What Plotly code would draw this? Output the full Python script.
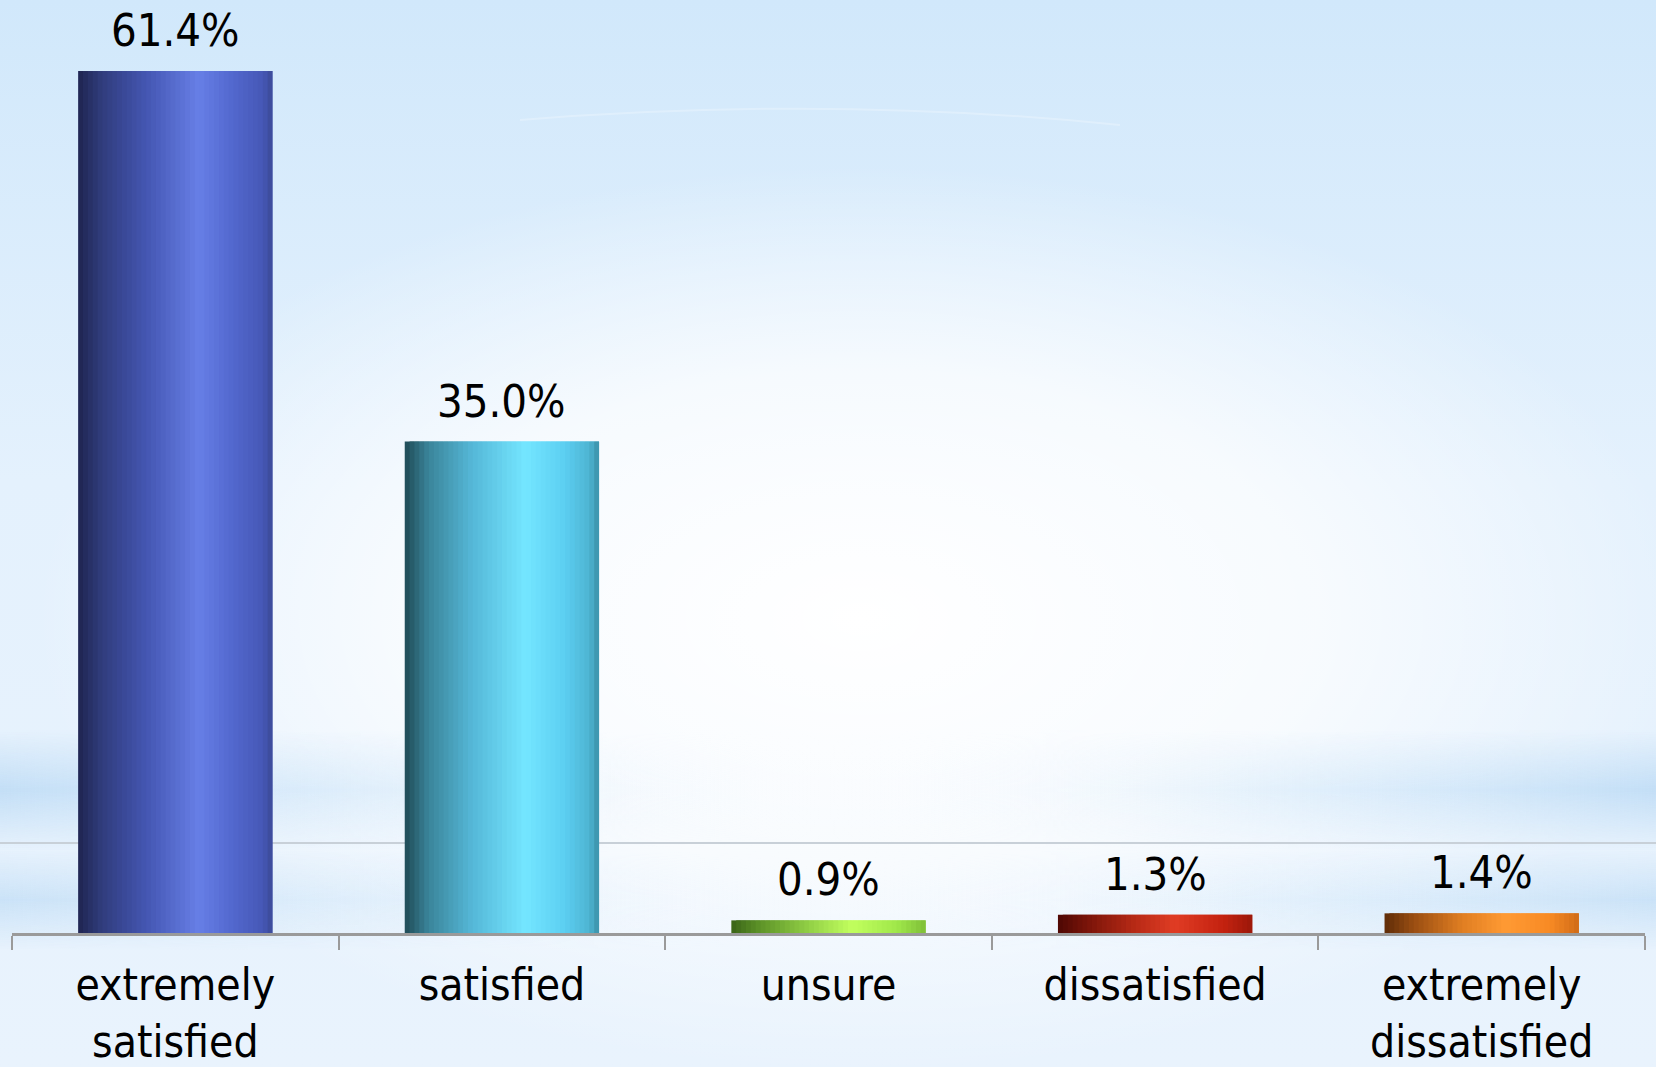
import base64
import plotly.graph_objects as go

# Survey results: satisfaction levels
categories = ["extremely<br>satisfied", "satisfied", "unsure", "dissatisfied", "extremely<br>dissatisfied"]
values = [61.4, 35.0, 0.9, 1.3, 1.4]
value_labels = ["61.4%", "35.0%", "0.9%", "1.3%", "1.4%"]

W, H = 1656, 1067
ML, MR, MT, MB = 12, 11, 0, 134

# Horizontal colour stops (left edge -> right edge) giving each bar a cylinder look
bar_gradients = [
    [(0.0, "#1f2550"), (0.12, "#303c7c"), (0.35, "#4456b2"), (0.62, "#677fe6"), (0.80, "#5267cd"), (0.95, "#4658b6"), (1.0, "#3b4a96")],
    [(0.0, "#1f4a55"), (0.12, "#3a8499"), (0.35, "#55b8d8"), (0.62, "#74e6ff"), (0.82, "#5ccff2"), (0.95, "#4eb4d2"), (1.0, "#3a8fa6")],
    [(0.0, "#3a6418"), (0.15, "#5e9428"), (0.40, "#92d046"), (0.62, "#c2ff5e"), (0.85, "#a0e84a"), (1.0, "#7fbf38")],
    [(0.0, "#4e0804"), (0.15, "#7a1409"), (0.40, "#b82a16"), (0.60, "#e03c24"), (0.85, "#c42210"), (1.0, "#9c180a")],
    [(0.0, "#5e2c08"), (0.15, "#9a4e12"), (0.40, "#e07e22"), (0.62, "#ff9a34"), (0.85, "#f88a24"), (1.0, "#d06c18")],
]


def hex_rgb(h):
    h = h.lstrip("#")
    return tuple(int(h[i:i + 2], 16) for i in (0, 2, 4))


def interp(stops, t):
    for (p0, c0), (p1, c1) in zip(stops, stops[1:]):
        if p0 <= t <= p1:
            f = 0 if p1 == p0 else (t - p0) / (p1 - p0)
            a, b = hex_rgb(c0), hex_rgb(c1)
            r = [round(a[k] + (b[k] - a[k]) * f) for k in range(3)]
            return "rgb(%d,%d,%d)" % tuple(r)
    return stops[-1][1]


# Soft blue backdrop with a bright centre and faint horizontal bands near the base
svg = f"""<svg xmlns='http://www.w3.org/2000/svg' width='{W}' height='{H}' viewBox='0 0 {W} {H}'>
<defs>
<linearGradient id='v' x1='0' y1='0' x2='0' y2='1'>
<stop offset='0' stop-color='#d1e8fb'/>
<stop offset='0.45' stop-color='#e4f1fd'/>
<stop offset='1' stop-color='#e9f3fd'/>
</linearGradient>
<radialGradient id='c' cx='0.52' cy='0.58' r='0.5' gradientTransform='translate(0.52 0.58) scale(1 0.85) translate(-0.52 -0.58)'>
<stop offset='0' stop-color='#ffffff' stop-opacity='1'/>
<stop offset='0.55' stop-color='#ffffff' stop-opacity='0.7'/>
<stop offset='1' stop-color='#ffffff' stop-opacity='0'/>
</radialGradient>
<linearGradient id='h' x1='0' y1='0' x2='1' y2='0'>
<stop offset='0' stop-color='#bfdcf5' stop-opacity='0.9'/>
<stop offset='0.3' stop-color='#d2e8fa' stop-opacity='0.35'/>
<stop offset='0.5' stop-color='#ffffff' stop-opacity='0'/>
<stop offset='0.75' stop-color='#d2e8fa' stop-opacity='0.45'/>
<stop offset='1' stop-color='#bfdcf5' stop-opacity='0.9'/>
</linearGradient>
<linearGradient id='hb' x1='0' y1='0' x2='0' y2='1'>
<stop offset='0' stop-color='#ffffff' stop-opacity='0'/>
<stop offset='0.5' stop-color='#ffffff' stop-opacity='1'/>
<stop offset='1' stop-color='#ffffff' stop-opacity='0'/>
</linearGradient>
<mask id='m1'><rect x='0' y='730' width='{W}' height='120' fill='url(#hb)'/></mask>
<mask id='m2'><rect x='0' y='850' width='{W}' height='100' fill='url(#hb)'/></mask>
</defs>
<rect width='{W}' height='{H}' fill='url(#v)'/>
<rect width='{W}' height='{H}' fill='url(#c)'/>
<g mask='url(#m1)'><rect x='0' y='730' width='{W}' height='120' fill='url(#h)'/></g>
<g mask='url(#m2)'><rect x='0' y='850' width='{W}' height='100' fill='url(#h)' opacity='0.8'/></g>
<path d='M 520 120 Q 830 95 1120 125' stroke='#ffffff' stroke-opacity='0.25' stroke-width='2' fill='none'/>
</svg>"""
bg_uri = "data:image/svg+xml;base64," + base64.b64encode(svg.encode()).decode()

fig = go.Figure()

# Each bar is built from thin overlapping vertical strips so it carries a horizontal shading
BAR_W = 0.595
N = 40
sw = BAR_W / N
for i in range(N):
    t = (i + 0.5) / N
    strip_w = sw * 2 if i < N - 1 else sw
    fig.add_trace(go.Bar(
        x=categories,
        y=values,
        width=[strip_w] * len(values),
        offset=[-BAR_W / 2 + i * sw] * len(values),
        marker=dict(color=[interp(g, t) for g in bar_gradients], line=dict(width=0)),
        showlegend=False,
        hoverinfo="skip",
    ))

for cat, v, lab in zip(categories, values, value_labels):
    fig.add_annotation(
        x=cat, y=v, text=lab, showarrow=False, yanchor="bottom", yshift=12,
        font=dict(family="DejaVu Sans Condensed", size=45, color="#000000"),
    )

pw, ph = W - ML - MR, H - MT - MB

# Thin horizon line across the backdrop
fig.add_shape(type="line", xref="paper", yref="paper",
              x0=-ML / pw, x1=1 + MR / pw, y0=90 / ph, y1=90 / ph,
              line=dict(color="#c8d0d8", width=2), layer="below")

fig.add_layout_image(
    source=bg_uri, xref="paper", yref="paper",
    x=-ML / pw, y=1 + MT / ph, sizex=W / pw, sizey=H / ph,
    xanchor="left", yanchor="top", sizing="stretch", layer="below",
)

fig.update_layout(
    width=W, height=H,
    margin=dict(l=ML, r=MR, t=MT, b=MB),
    barmode="overlay",
    paper_bgcolor="#e6f2fd",
    plot_bgcolor="rgba(0,0,0,0)",
    xaxis=dict(
        type="category",
        range=[-0.5, 4.5],
        automargin=False,
        showline=True, linecolor="#9a9a9a", linewidth=2.5,
        ticks="outside", tickson="boundaries", ticklen=14, tickcolor="#9a9a9a", tickwidth=1.5,
        ticklabelstandoff=11,
        tickfont=dict(family="DejaVu Sans Condensed", size=44, color="#000000"),
        showgrid=False, zeroline=False,
    ),
    yaxis=dict(range=[0, 66.45], visible=False, showgrid=False, zeroline=False, automargin=False),
)

fig.write_html("out.html")
